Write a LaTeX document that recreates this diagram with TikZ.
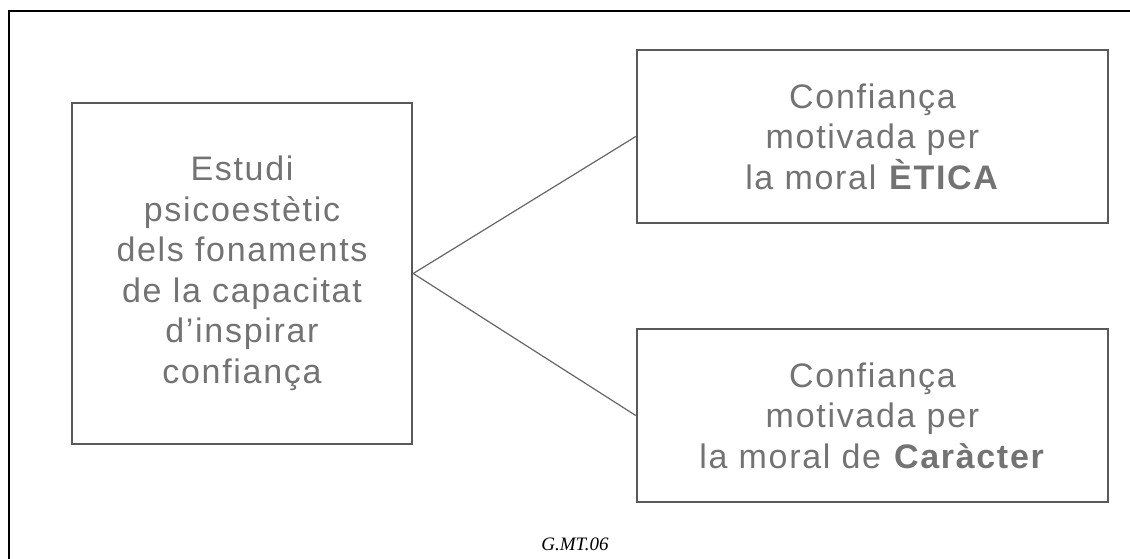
\documentclass[tikz,border=0pt]{standalone}
\usepackage{fontspec}
\setmainfont{Liberation Sans}[LetterSpace=5]
\newfontfamily\capfont{Liberation Serif}
\begin{document}
\begin{tikzpicture}[x=1pt,y=-1pt,
  box/.style={draw=black!65, line width=2.5pt, align=center, inner sep=0pt,
    text=black!55, font=\fontsize{34}{40.5}\selectfont},
  sidebox/.style={box, minimum width=471pt, minimum height=173pt},
  link/.style={draw=black!60, line width=1.2pt},
  frame/.style={draw=black, line width=2pt}]
\useasboundingbox (0,0) rectangle (1130,558);
\coordinate (fb) at (8.5,560);
\coordinate (fc) at (8.5,11);
\coordinate (fr) at (1132,11);
\draw[frame] (fb) -- (fc) -- (fr);
\node[box, minimum width=340pt, minimum height=341pt] (L) at (242,273.5)
  {Estudi\\psicoestètic\\dels fonaments\\de la capacitat\\d’inspirar\\confiança};
\node[sidebox] (T) at (872.5,136.5)
  {Confiança\\motivada per\\la moral \textbf{ÈTICA}};
\node[sidebox] (B) at (872.5,415.5)
  {Confiança\\motivada per\\la moral de \textbf{Caràcter}};
\draw[link] (L.east) -- (T.west);
\draw[link] (L.east) -- (B.west);
\node[anchor=base, inner sep=0pt, font=\capfont\itshape\fontsize{19}{22}\selectfont] (cap) at (575,550) {G.MT.06};
\end{tikzpicture}
\end{document}
